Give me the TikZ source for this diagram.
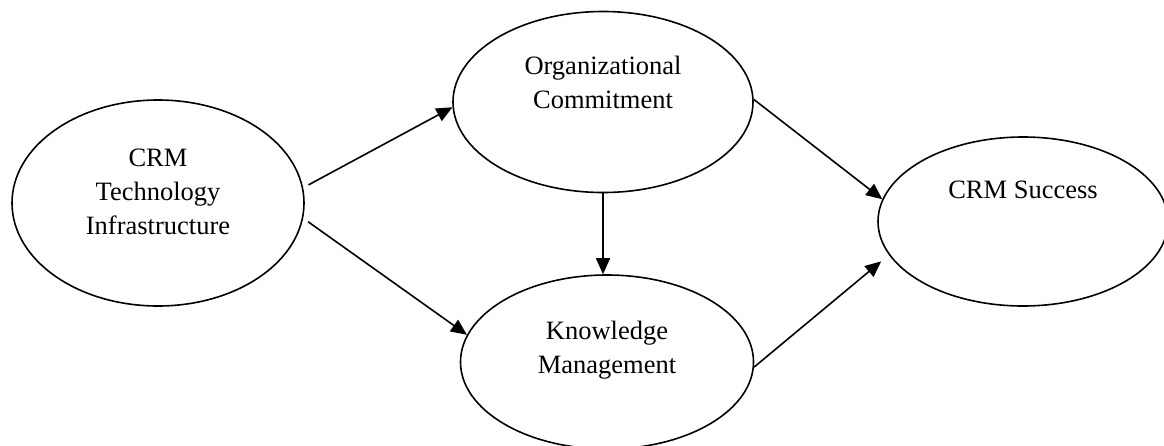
\documentclass[tikz,border=0pt]{standalone}
\usepackage{fontspec}
\setmainfont{Liberation Serif}
\usetikzlibrary{shapes.geometric, arrows.meta}

\begin{document}
\begin{tikzpicture}[> = {Triangle[length = 16pt, width = 14pt]}, x = 1pt, y = -1pt,
	construct/.style = {draw, ellipse, line width = 1.6pt, inner sep = 0},
	caption/.style = {align = center, font = \fontsize{26.5}{34}\selectfont}]

	\useasboundingbox (0, 0) rectangle (1164, 445);

	% Constructs

	\node [construct, minimum width = 292pt, minimum height = 206pt] (tech) at (158, 203) {};
	\node [construct, minimum width = 300pt, minimum height = 181pt] (org) at (603, 102) {};
	\node [construct, minimum width = 293pt, minimum height = 174pt] (km) at (607, 362) {};
	\node [construct, minimum width = 290pt, minimum height = 169pt] (succ) at (1023, 221.5) {};

	% Their names

	\node [caption, yshift = 11pt] (techtext) at (tech) {CRM\\Technology\\Infrastructure};
	\node [caption, yshift = 20pt] (orgtext) at (org) {Organizational\\Commitment};
	\node [caption, yshift = 12pt] (kmtext) at (km) {Knowledge\\Management};
	\node [caption, yshift = 31.5pt] (succtext) at (succ) {CRM Success};

	% Paths

	\begin{scope}[->, line width = 1.6pt]

		\draw [shorten <= 6pt] (tech.6) -- (org.182);
		\draw [shorten <= 6pt] (tech.-6) -- (km.169);

		\draw (org.south) -- (org.south |- km.north);

		\draw (org.1) -- (succ.171);
		\draw [shorten >= 10pt] (km.-2) -- (succ.194);

	\end{scope}

\end{tikzpicture}
\end{document}
